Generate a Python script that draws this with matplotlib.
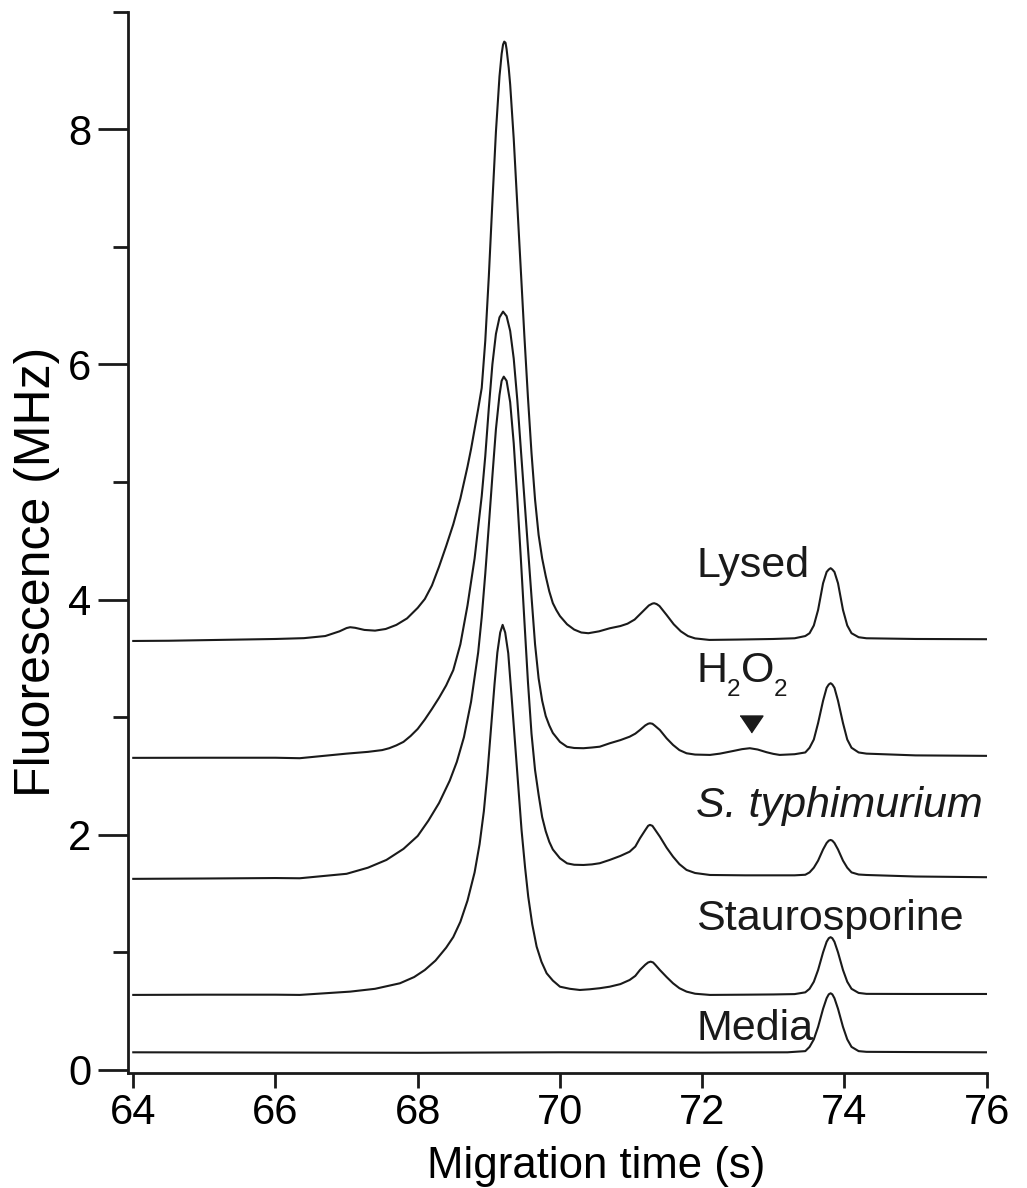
import matplotlib
matplotlib.use("Agg")
import matplotlib.pyplot as plt

plt.rcParams['font.family'] = ['Liberation Sans', 'DejaVu Sans']

# traces: migration time (s) and fluorescence (MHz)
lysed_t = [64.0, 64.5, 65.0, 65.5, 66.0, 66.4, 66.7, 66.9, 67.0, 67.05, 67.12, 67.25, 67.4,
           67.55, 67.7, 67.85, 68.0, 68.1, 68.2, 68.3, 68.4, 68.5, 68.6, 68.7, 68.75, 68.8,
           68.85, 68.9, 68.95, 69.0, 69.05, 69.1, 69.15, 69.18, 69.2, 69.217, 69.235, 69.25,
           69.28, 69.3, 69.35, 69.4, 69.45, 69.5, 69.55, 69.6, 69.65, 69.7, 69.75, 69.8,
           69.85, 69.9, 69.95, 70.0, 70.1, 70.2, 70.3, 70.4, 70.55, 70.7, 70.85, 70.95,
           71.05, 71.15, 71.25, 71.3, 71.325, 71.36, 71.4, 71.5, 71.6, 71.7, 71.8, 71.9,
           72.1, 72.5, 73.0, 73.3, 73.45, 73.51, 73.57, 73.63, 73.7, 73.75, 73.78, 73.806,
           73.83, 73.86, 73.91, 73.98, 74.04, 74.1, 74.2, 74.31, 75.0, 76.0]
lysed_v = [3.648, 3.650, 3.655, 3.660, 3.665, 3.672, 3.69, 3.73, 3.758, 3.765, 3.76, 3.742, 3.736,
           3.75, 3.785, 3.84, 3.93, 4.005, 4.12, 4.28, 4.455, 4.64, 4.86, 5.13, 5.28, 5.45,
           5.62, 5.80, 6.20, 6.75, 7.38, 7.98, 8.45, 8.64, 8.72, 8.745, 8.735, 8.68,
           8.52, 8.38, 7.92, 7.36, 6.80, 6.24, 5.72, 5.247, 4.85, 4.55, 4.35, 4.20,
           4.07, 3.97, 3.91, 3.86, 3.79, 3.745, 3.72, 3.714, 3.73, 3.756, 3.775, 3.795,
           3.83, 3.89, 3.95, 3.966, 3.969, 3.962, 3.945, 3.869, 3.79, 3.73, 3.69, 3.67,
           3.657, 3.66, 3.665, 3.671, 3.69, 3.714, 3.78, 3.912, 4.139, 4.235, 4.256, 4.267,
           4.256, 4.235, 4.139, 3.912, 3.78, 3.714, 3.68, 3.671, 3.665, 3.663]

h2o2_t = [64.0, 65.0, 66.0, 66.34, 67.0, 67.3, 67.5, 67.6, 67.7, 67.8, 67.9, 68.0, 68.1, 68.2,
          68.3, 68.4, 68.5, 68.6, 68.7, 68.8, 68.9, 68.95, 69.0, 69.05, 69.1, 69.15, 69.2,
          69.25, 69.3, 69.35, 69.4, 69.45, 69.5, 69.55, 69.6, 69.65, 69.7, 69.75, 69.8,
          69.85, 69.9, 70.0, 70.1, 70.2, 70.33, 70.45, 70.56, 70.7, 70.85, 70.98, 71.06,
          71.125, 71.2, 71.24, 71.265, 71.3, 71.33, 71.405, 71.5, 71.59, 71.68, 71.78, 71.9,
          72.11, 72.25, 72.44, 72.56, 72.67, 72.78, 72.905, 73.0, 73.09, 73.3, 73.45, 73.51,
          73.57, 73.63, 73.7, 73.75, 73.78, 73.806, 73.83, 73.86, 73.91, 73.98, 74.04, 74.1,
          74.2, 74.31, 75.0, 76.0]
h2o2_v = [2.654, 2.655, 2.655, 2.651, 2.69, 2.705, 2.72, 2.736, 2.76, 2.79, 2.84, 2.90, 2.98, 3.07,
          3.165, 3.27, 3.40, 3.62, 3.95, 4.35, 4.88, 5.22, 5.63, 6.00, 6.26, 6.40, 6.449,
          6.41, 6.285, 6.05, 5.70, 5.28, 4.86, 4.44, 4.025, 3.62, 3.33, 3.14, 3.01,
          2.93, 2.866, 2.79, 2.748, 2.738, 2.736, 2.742, 2.749, 2.778, 2.805, 2.834, 2.86,
          2.891, 2.93, 2.944, 2.948, 2.944, 2.93, 2.891, 2.82, 2.764, 2.72, 2.693, 2.682,
          2.679, 2.69, 2.713, 2.728, 2.736, 2.725, 2.702, 2.688, 2.679, 2.685, 2.70, 2.74,
          2.81, 2.95, 3.14, 3.25, 3.278, 3.289, 3.278, 3.25, 3.14, 2.95, 2.81, 2.74,
          2.70, 2.69, 2.675, 2.671]

styph_t = [64.0, 65.0, 66.0, 66.34, 67.0, 67.3, 67.56, 67.8, 68.0, 68.15, 68.3, 68.45, 68.55,
           68.65, 68.75, 68.85, 68.9, 68.95, 69.0, 69.05, 69.1, 69.15, 69.18, 69.21, 69.25,
           69.3, 69.35, 69.4, 69.45, 69.5, 69.55, 69.6, 69.65, 69.7, 69.75, 69.8, 69.85,
           69.9, 70.0, 70.1, 70.2, 70.33, 70.45, 70.56, 70.7, 70.85, 70.98, 71.06, 71.125,
           71.2, 71.24, 71.265, 71.3, 71.33, 71.405, 71.5, 71.59, 71.68, 71.78, 71.9, 72.11,
           72.6, 73.0, 73.3, 73.45, 73.51, 73.57, 73.63, 73.7, 73.75, 73.78, 73.806, 73.83,
           73.86, 73.91, 73.98, 74.04, 74.1, 74.2, 74.31, 75.0, 76.0]
styph_v = [1.625, 1.628, 1.632, 1.630, 1.668, 1.72, 1.786, 1.88, 1.99, 2.12, 2.27, 2.46, 2.62,
           2.83, 3.13, 3.55, 3.85, 4.22, 4.63, 5.05, 5.45, 5.74, 5.86, 5.896, 5.86,
           5.68, 5.33, 4.86, 4.35, 3.82, 3.30, 2.86, 2.55, 2.34, 2.15, 2.03, 1.94,
           1.875, 1.80, 1.757, 1.745, 1.743, 1.748, 1.758, 1.786, 1.82, 1.856, 1.90, 1.970,
           2.04, 2.076, 2.084, 2.076, 2.05, 1.984, 1.89, 1.814, 1.75, 1.701, 1.675, 1.658,
           1.655, 1.655, 1.655, 1.66, 1.68, 1.72, 1.78, 1.875, 1.93, 1.950, 1.956, 1.950,
           1.93, 1.875, 1.78, 1.72, 1.68, 1.662, 1.658, 1.645, 1.639]

stauro_t = [64.0, 65.0, 66.0, 66.34, 67.05, 67.4, 67.75, 67.95, 68.1, 68.25, 68.4, 68.5, 68.6,
            68.7, 68.8, 68.87, 68.93, 68.98, 69.03, 69.08, 69.12, 69.16, 69.194, 69.23, 69.273,
            69.32, 69.39, 69.46, 69.51, 69.554, 69.61, 69.672, 69.74, 69.813, 69.9, 70.0,
            70.14, 70.28, 70.42, 70.56, 70.7, 70.85, 70.98, 71.06, 71.125, 71.2, 71.24, 71.275,
            71.31, 71.34, 71.405, 71.5, 71.59, 71.68, 71.78, 71.9, 72.11, 72.6, 73.0, 73.3,
            73.45, 73.51, 73.57, 73.63, 73.7, 73.75, 73.78, 73.806, 73.83, 73.86, 73.91, 73.98,
            74.04, 74.1, 74.2, 74.31, 75.0, 76.0]
stauro_v = [0.638, 0.640, 0.640, 0.638, 0.666, 0.69, 0.737, 0.79, 0.85, 0.93, 1.04, 1.13, 1.26,
            1.44, 1.68, 1.92, 2.20, 2.52, 2.90, 3.28, 3.55, 3.72, 3.785, 3.72, 3.544,
            3.175, 2.608, 2.041, 1.72, 1.474, 1.24, 1.049, 0.92, 0.822, 0.76, 0.708,
            0.69, 0.680, 0.686, 0.695, 0.708, 0.73, 0.765, 0.80, 0.850, 0.895, 0.914, 0.921,
            0.914, 0.895, 0.850, 0.79, 0.737, 0.695, 0.666, 0.648, 0.638, 0.640, 0.642, 0.645,
            0.66, 0.69, 0.75, 0.85, 1.00, 1.09, 1.12, 1.129, 1.12, 1.09, 1.00, 0.85,
            0.75, 0.69, 0.655, 0.647, 0.646, 0.646]

media_t = [64.0, 66.0, 68.0, 70.0, 72.0, 73.2, 73.45, 73.51, 73.57, 73.63, 73.7, 73.75, 73.78,
           73.806, 73.83, 73.86, 73.91, 73.98, 74.04, 74.1, 74.2, 74.31, 75.0, 76.0]
media_v = [0.150, 0.148, 0.146, 0.150, 0.148, 0.150, 0.16, 0.196, 0.26, 0.366, 0.52, 0.61, 0.643,
           0.652, 0.643, 0.61, 0.52, 0.366, 0.26, 0.196, 0.16, 0.154, 0.152, 0.150]

trace_names = ["Lysed", "H2O2", "S. typhimurium", "Staurosporine", "Media"]
arrow_t, arrow_v = 72.68, 2.94   # marker above the small H2O2 peak

ink = "#1a1a1a"
fig = plt.figure(figsize=(10.27, 11.88), dpi=100)
ax = fig.add_axes([0.1249, 0.0971, 0.8358, 0.8931])

for t, v in [(lysed_t, lysed_v), (h2o2_t, h2o2_v), (styph_t, styph_v),
             (stauro_t, stauro_v), (media_t, media_v)]:
    ax.plot(t, v, color=ink, lw=1.5, solid_joinstyle="round")

# downward triangle
tri = [(-1, 0.74), (1, 0.74), (0, -0.74)]
ax.plot([arrow_t], [arrow_v], marker=tri, markersize=16.5, color=ink, ls="none")

# trace labels
label_x = 71.92
label_y = [4.19, 3.30, 2.155, 1.19, 0.255]
for name, y in zip(trace_names, label_y):
    if name == "H2O2":
        # H, O with low subscripts
        for s, dx, dy, fs in [("H", 0, 0, 31), ("2", 21.5, -10.5, 17.5),
                              ("O", 32.0, 0, 31), ("2", 55.5, -10.5, 17.5)]:
            ax.annotate(s, xy=(label_x, y), xytext=(dx, dy), textcoords="offset points",
                        fontsize=fs, ha="left", va="baseline", color=ink)
        continue
    style = "italic" if name.startswith("S. t") else "normal"
    ax.text(label_x, y, name, fontsize=31, ha="left", va="baseline", style=style, color=ink)

ax.set_xlim(63.93, 76.0)
ax.set_ylim(-0.023, 9.0)

ax.spines["top"].set_visible(False)
ax.spines["right"].set_visible(False)
for s in ["left", "bottom"]:
    ax.spines[s].set_linewidth(2.0)
    ax.spines[s].set_color(ink)

ax.set_xticks(range(64, 77, 2))
ax.set_yticks([0, 2, 4, 6, 8])
ax.set_yticks([1, 3, 5, 7, 9], minor=True)
ax.tick_params(axis="y", which="major", direction="out", length=21.5, width=2.0,
               labelsize=30, pad=5, color=ink)
ax.tick_params(axis="y", which="minor", direction="out", length=11, width=2.0, color=ink)
ax.tick_params(axis="x", which="major", direction="out", length=11, width=2.0,
               labelsize=30, pad=4, color=ink)

ax.set_xlabel("Migration time (s)", fontsize=31.5)
ax.xaxis.set_label_coords(0.5454, -0.069)
ax.set_ylabel("Fluorescence (MHz)", fontsize=36)
ax.yaxis.set_label_coords(-0.079, 0.472)

fig.savefig("out.png", dpi=100)
